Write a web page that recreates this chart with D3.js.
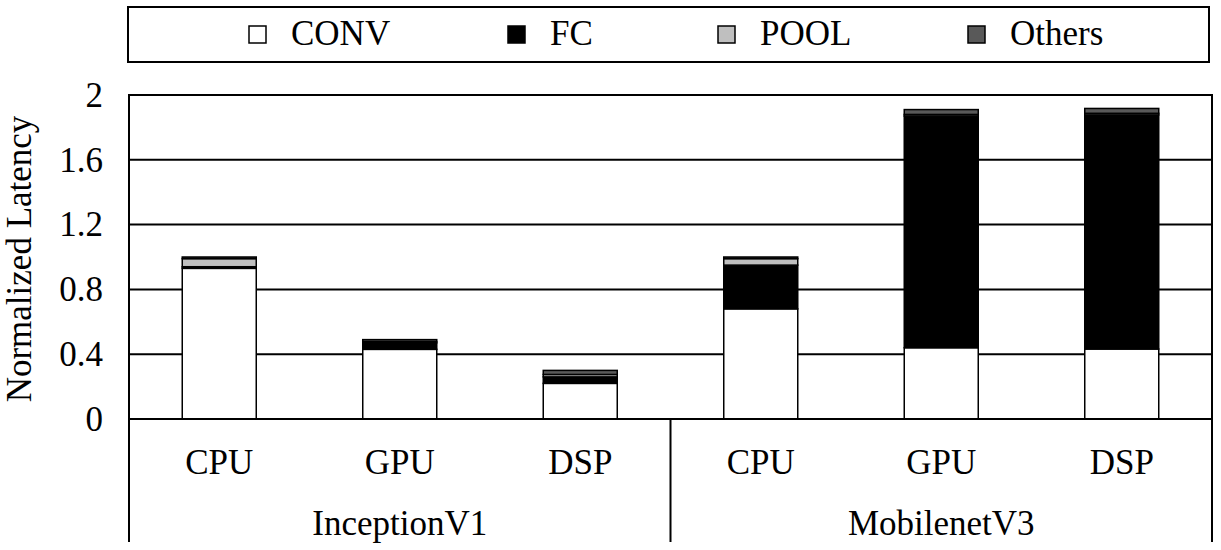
<!DOCTYPE html>
<html><head><meta charset="utf-8">
<script src="https://cdn.jsdelivr.net/npm/d3@7"></script>
<style>body{margin:0;background:#fff}svg{display:block}</style>
</head><body><svg id="c" width="1221" height="550" style="font-family:'Liberation Serif',serif"></svg>
<script>
const models = ["InceptionV1", "MobilenetV3"];
const devices = ["CPU", "GPU", "DSP"];
const seriesNames = ["CONV", "FC", "POOL", "Others"];
const seriesColors = ["#ffffff", "#000000", "#bfbfbf", "#595959"];
const CONV   = [0.93, 0.43, 0.22, 0.68, 0.44, 0.432];
const FC     = [0.01, 0.04, 0.04, 0.27, 1.43, 1.445];
const POOL   = [0.05, 0.008, 0.015, 0.04, 0.01, 0.01];
const Others = [0.01, 0.012, 0.025, 0.01, 0.03, 0.03];
const yTicks = [0, 0.4, 0.8, 1.2, 1.6, 2];
const yTickLabels = ["0", "0.4", "0.8", "1.2", "1.6", "2"];

const FONT = "'Liberation Serif', 'Times New Roman', serif";
const svg = d3.select("#c");
const L = 129, R = 1212, T = 95, B = 419, BOT = 542, FS = 35;
const cats = [];
models.forEach(m => devices.forEach(d => cats.push(m + "|" + d)));
const x = d3.scaleBand().domain(cats).range([L, R]).paddingInner(0.59).paddingOuter(0.295);
const y = d3.scaleLinear().domain([0, 2]).range([B, T]);

const rows = cats.map((c, i) => ({cat: c, CONV: CONV[i], FC: FC[i], POOL: POOL[i], Others: Others[i]}));
const stack = d3.stack().keys(seriesNames)(rows);

function txt(sel) { return sel.attr("font-family", FONT).style("font-family", FONT).style("font-size", FS + "px").attr("fill", "#000"); }

// gridlines
svg.append("g").selectAll("line").data(yTicks.slice(1, -1)).join("line")
  .attr("x1", L).attr("x2", R).attr("y1", d => y(d)).attr("y2", d => y(d))
  .attr("stroke", "#000").attr("stroke-width", 2);

// bars
stack.forEach((s, k) => {
  svg.append("g").selectAll("rect").data(s).join("rect")
    .attr("x", d => x(d.data.cat)).attr("width", x.bandwidth())
    .attr("y", d => y(d[1])).attr("height", d => y(d[0]) - y(d[1]))
    .attr("fill", seriesColors[k]).attr("stroke", "#000").attr("stroke-width", 1.5);
});

// frame
svg.append("rect").attr("x", L).attr("y", T).attr("width", R - L).attr("height", B - T)
  .attr("fill", "none").attr("stroke", "#000").attr("stroke-width", 2);
svg.append("path").attr("d", `M${L},${B}V${BOT}M${R},${B}V${BOT}M${(L+R)/2},${B}V${BOT}`)
  .attr("stroke", "#000").attr("stroke-width", 2).attr("fill", "none");

// y axis
const ya = svg.append("g").attr("transform", `translate(${L},0)`)
  .call(d3.axisLeft(y).tickValues(yTicks).tickFormat((d, i) => yTickLabels[i]).tickSize(0).tickPadding(26));
ya.attr("font-family", FONT);
ya.select(".domain").remove();
txt(ya.selectAll("text"));

txt(svg.append("text").attr("transform", `translate(31,${(T + B) / 2 + 2}) rotate(-90)`)
  .attr("text-anchor", "middle").text("Normalized Latency"));

// x labels
txt(svg.append("g").selectAll("text").data(cats).join("text")
  .attr("x", d => x(d) + x.bandwidth() / 2).attr("y", 474).attr("text-anchor", "middle")
  .text(d => d.split("|")[1]));
txt(svg.append("g").selectAll("text").data(models).join("text")
  .attr("x", (d, i) => L + (R - L) / 4 * (2 * i + 1)).attr("y", 535).attr("text-anchor", "middle")
  .text(d => d));

// legend
svg.append("rect").attr("x", 128).attr("y", 7).attr("width", 1081).attr("height", 55)
  .attr("fill", "#fff").attr("stroke", "#000").attr("stroke-width", 2);
const legX = [249, 508, 718, 968];
const lg = svg.append("g").selectAll("g").data(seriesNames).join("g")
  .attr("transform", (d, i) => `translate(${legX[i]},26)`);
lg.append("rect").attr("width", 17).attr("height", 17)
  .attr("fill", (d, i) => seriesColors[i]).attr("stroke", "#000").attr("stroke-width", 1.5);
txt(lg.append("text").attr("x", 42).attr("y", 19).text(d => d));
</script></body></html>
